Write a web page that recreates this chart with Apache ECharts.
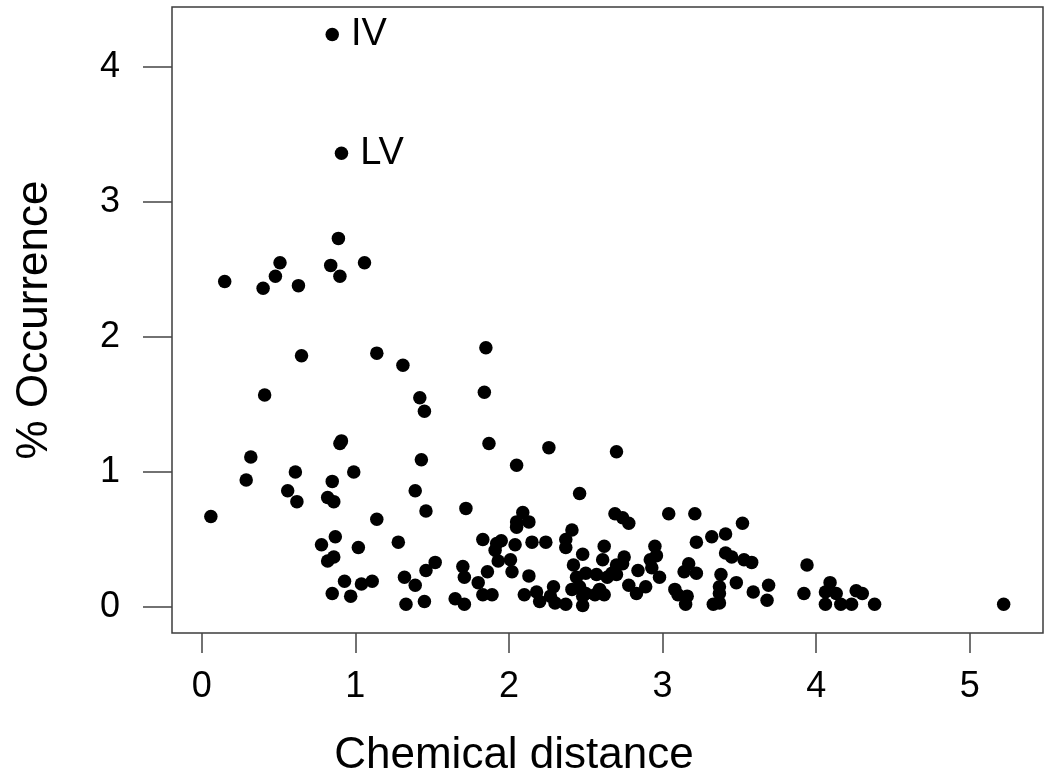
<!DOCTYPE html>
<html>
<head>
<meta charset="utf-8">
<script src="https://cdn.jsdelivr.net/npm/echarts@6/dist/echarts.min.js"></script>
<style>
  html, body { margin: 0; padding: 0; background: #fff; }
  #chart { width: 1050px; height: 783px; }
</style>
</head>
<body>
<div id="chart"></div>
<script>
// chemical distance (x) and % occurrence (y) for each pair
const distance = [
  0.85, 0.91, 0.89, 0.15, 0.40, 0.48, 0.51, 0.63, 0.84, 0.90, 1.06,
  0.65, 0.41, 1.14, 1.31, 1.42, 1.45, 0.90, 0.91, 0.32, 0.29, 0.61,
  0.56, 0.62, 0.85, 0.99, 0.82, 0.86, 1.43, 1.39, 1.46, 1.72, 0.06,
  1.14, 0.78, 0.87, 1.02, 1.28, 0.82, 0.86, 1.52, 1.46, 1.70, 1.71,
  0.93, 1.04, 1.11, 1.32, 1.39, 0.85, 0.97, 1.33, 1.45, 1.65, 1.71,
  1.85, 1.84, 1.87, 2.05, 2.26, 2.70, 2.46, 2.09, 2.05, 2.13, 2.05,
  2.41, 2.37, 2.37, 1.83, 1.92, 1.95, 1.91, 2.04, 2.15, 2.24, 2.48,
  1.93, 2.01, 1.86, 1.80, 2.02, 2.13, 1.83, 1.89, 2.10, 2.18, 2.20,
  2.29, 2.27, 2.30, 2.37, 2.42, 2.44, 2.46, 2.41, 2.48, 2.48, 2.50,
  2.50, 2.69, 2.74, 2.78, 3.04, 3.21, 3.52, 3.32, 3.41, 3.22, 2.62,
  2.95, 2.96, 3.41, 3.45, 2.61, 2.75, 2.70, 2.74, 2.57, 2.64, 2.67,
  2.84, 2.92, 2.93, 2.98, 3.17, 3.14, 3.22, 3.38, 3.48, 3.37, 3.37,
  2.59, 2.56, 2.62, 2.78, 2.83, 2.89, 3.08, 3.10, 3.16, 3.15, 3.33,
  3.37, 3.53, 3.58, 3.59, 3.69, 3.68, 2.70, 3.94, 3.92, 4.09, 4.06,
  4.13, 4.06, 4.16, 4.23, 4.26, 4.30, 4.38, 5.22
];
const occurrence = [
  4.24, 3.36, 2.73, 2.41, 2.36, 2.45, 2.55, 2.38, 2.53, 2.45, 2.55,
  1.86, 1.57, 1.88, 1.79, 1.55, 1.45, 1.21, 1.23, 1.11, 0.94, 1.00,
  0.86, 0.78, 0.93, 1.00, 0.81, 0.78, 1.09, 0.86, 0.71, 0.73, 0.67,
  0.65, 0.46, 0.52, 0.44, 0.48, 0.34, 0.37, 0.33, 0.27, 0.30, 0.22,
  0.19, 0.17, 0.19, 0.22, 0.16, 0.10, 0.08, 0.02, 0.04, 0.06, 0.02,
  1.92, 1.59, 1.21, 1.05, 1.18, 1.15, 0.84, 0.70, 0.63, 0.63, 0.59,
  0.57, 0.50, 0.44, 0.50, 0.47, 0.49, 0.42, 0.46, 0.48, 0.48, 0.39,
  0.34, 0.35, 0.26, 0.18, 0.26, 0.23, 0.09, 0.09, 0.09, 0.11, 0.04,
  0.15, 0.08, 0.03, 0.02, 0.31, 0.22, 0.15, 0.13, 0.08, 0.01, 0.25,
  0.10, 0.69, 0.66, 0.62, 0.69, 0.69, 0.62, 0.52, 0.54, 0.48, 0.45,
  0.45, 0.38, 0.40, 0.37, 0.35, 0.37, 0.31, 0.32, 0.24, 0.22, 0.25,
  0.27, 0.35, 0.29, 0.22, 0.32, 0.26, 0.25, 0.24, 0.18, 0.15, 0.10,
  0.13, 0.09, 0.09, 0.16, 0.10, 0.15, 0.13, 0.09, 0.08, 0.02, 0.02,
  0.03, 0.35, 0.33, 0.11, 0.16, 0.05, 0.24, 0.31, 0.10, 0.18, 0.11,
  0.10, 0.02, 0.02, 0.02, 0.12, 0.10, 0.02, 0.02
];
// only the two outliers carry a label
const pointLabels = ['IV', 'LV'];

const xTicks = [0, 1, 2, 3, 4, 5];
const yTicks = [0, 1, 2, 3, 4];

const FONT = '"Liberation Sans", Arial, Helvetica, sans-serif';

const points = distance.map((d, i) => [d, occurrence[i], pointLabels[i] || '']);

const chart = echarts.init(document.getElementById('chart'), null, { renderer: 'canvas' });

chart.setOption({
  backgroundColor: '#ffffff',
  animation: false,
  textStyle: { fontFamily: FONT, color: '#000' },
  grid: {
    left: 172, top: 7, right: 7, bottom: 150,
    show: true, borderColor: '#3c3c3c', borderWidth: 1.5,
    containLabel: false, outerBoundsMode: 'none'
  },
  xAxis: {
    type: 'value',
    min: -0.193, max: 5.476,
    name: 'Chemical distance',
    nameLocation: 'middle',
    nameGap: 101,
    nameTextStyle: { fontSize: 44, color: '#000', fontFamily: FONT, padding: [0, 187, 0, 0] },
    axisLine: { show: false, onZero: false },
    axisTick: { show: true, inside: false, length: 20, customValues: xTicks, lineStyle: { color: '#444', width: 1.5 } },
    axisLabel: { customValues: xTicks, margin: 36, fontSize: 36, color: '#000', fontFamily: FONT },
    splitLine: { show: false }
  },
  yAxis: {
    type: 'value',
    min: -0.193, max: 4.444,
    name: '% Occurrence',
    nameLocation: 'middle',
    nameRotate: 90,
    nameGap: 115,
    nameTextStyle: { fontSize: 44, color: '#000', fontFamily: FONT },
    axisLine: { show: false, onZero: false },
    axisTick: { show: true, inside: false, length: 29, customValues: yTicks, lineStyle: { color: '#444', width: 1.5 } },
    axisLabel: { customValues: yTicks, margin: 52, fontSize: 36, color: '#000', fontFamily: FONT },
    splitLine: { show: false }
  },
  series: [{
    type: 'scatter',
    data: points,
    symbol: 'circle',
    symbolSize: 13.5,
    itemStyle: { color: '#000', opacity: 1 },
    label: {
      show: true,
      position: 'right',
      distance: 12,
      fontSize: 38,
      color: '#000',
      fontFamily: FONT,
      formatter: p => p.value[2]
    }
  }]
});
</script>
</body>
</html>
